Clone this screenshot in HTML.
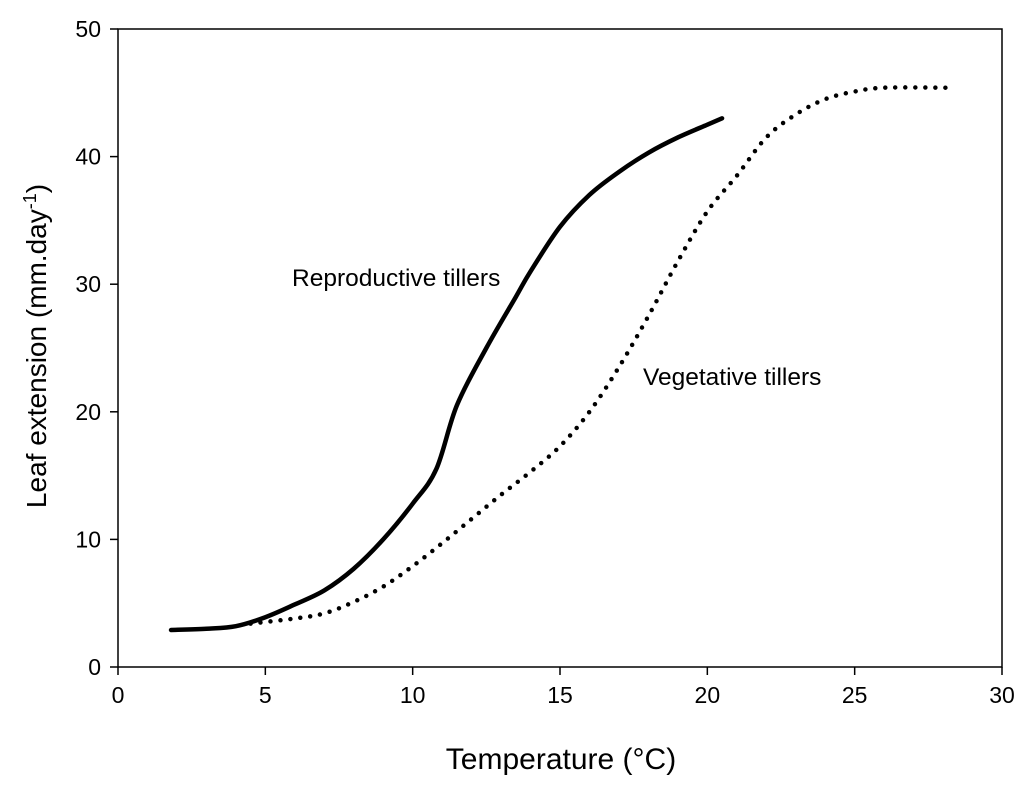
<!DOCTYPE html>
<html><head><meta charset="utf-8"><style>
body{margin:0;background:#fff;}
svg{display:block;font-family:"Liberation Sans",Arial,sans-serif;}
</style></head><body>
<svg id="chart" width="1024" height="788">
<rect x="118" y="29" width="884" height="638" fill="none" stroke="#000" stroke-width="1.5"/>
<g id="xticks"></g>
<g id="yticks"></g>
<text x="561" y="769" font-size="30" text-anchor="middle">Temperature (°C)</text>
<text transform="translate(46,346) rotate(-90)" font-size="28" text-anchor="middle">Leaf extension (mm.day<tspan dy="-10" font-size="18">-1</tspan><tspan dy="10">)</tspan></text>
<text x="292" y="286" font-size="24.5">Reproductive tillers</text>
<text x="643" y="385" font-size="24.5">Vegetative tillers</text>
<path id="repro" fill="none" stroke="#000" stroke-width="4.5" stroke-linejoin="round" stroke-linecap="round"/>
<path id="veg" fill="none" stroke="#000" stroke-width="4.5" stroke-dasharray="0 10" stroke-linecap="round"/>
</svg>
<script>
const xTicks=[0,5,10,15,20,25,30];
const yTicks=[0,10,20,30,40,50];
const reproX=[1.8,3,4,5,6,7,8,9,10,10.8,11.5,12.5,13.5,14,15,16,17,18,19,20,20.5];
const reproY=[2.9,3.0,3.2,3.9,4.9,6.0,7.7,10,12.8,15.5,20.5,25,29,31,34.5,37,38.8,40.3,41.5,42.5,43];
const vegX=[4.5,6,7,8,9,10,11,12,13,14,15,16,17,18,19,20,21,22,23,24,25,26,28.1];
const vegY=[3.4,3.8,4.2,5.1,6.3,7.9,9.7,11.6,13.5,15.3,17.3,20,23.5,27.5,31.8,35.7,38.5,41.5,43.3,44.5,45.1,45.4,45.4];
const sx=v=>118+v*(884/30), sy=v=>667-v*(638/50);
const NS="http://www.w3.org/2000/svg";
const xg=document.getElementById('xticks'), yg=document.getElementById('yticks');
xTicks.forEach(t=>{
 const l=document.createElementNS(NS,'line');
 
 
 l.setAttribute('x1',sx(t));l.setAttribute('x2',sx(t));l.setAttribute('y1',667);l.setAttribute('y2',675);l.setAttribute('stroke','#000');l.setAttribute('stroke-width','1.5');xg.appendChild(l);
 const tx=document.createElementNS(NS,'text');
 
 
 tx.setAttribute('x',sx(t));tx.setAttribute('y',703);tx.setAttribute('font-size','23');tx.setAttribute('text-anchor','middle');tx.textContent=t;xg.appendChild(tx);
});
yTicks.forEach(t=>{
 const l=document.createElementNS(NS,'line');
 
 
 l.setAttribute('x1',110);l.setAttribute('x2',118);l.setAttribute('y1',sy(t));l.setAttribute('y2',sy(t));l.setAttribute('stroke','#000');l.setAttribute('stroke-width','1.5');yg.appendChild(l);
 const tx=document.createElementNS(NS,'text');
 
 
 tx.setAttribute('x',101);tx.setAttribute('y',sy(t)+8);tx.setAttribute('font-size','23');tx.setAttribute('text-anchor','end');tx.textContent=t;yg.appendChild(tx);
});
function smooth(xs,ys){
 const p=xs.map((x,i)=>[sx(x),sy(ys[i])]);
 let d='M'+p[0][0]+','+p[0][1];
 for(let i=0;i<p.length-1;i++){
  const p0=p[i-1]||p[i],p1=p[i],p2=p[i+1],p3=p[i+2]||p2;
  d+=' C'+(p1[0]+(p2[0]-p0[0])/6)+','+(p1[1]+(p2[1]-p0[1])/6)+' '+(p2[0]-(p3[0]-p1[0])/6)+','+(p2[1]-(p3[1]-p1[1])/6)+' '+p2[0]+','+p2[1];
 }
 return d;
}
document.getElementById('repro').setAttribute('d',smooth(reproX,reproY));
document.getElementById('veg').setAttribute('d',smooth(vegX,vegY));
</script>
</body></html>
